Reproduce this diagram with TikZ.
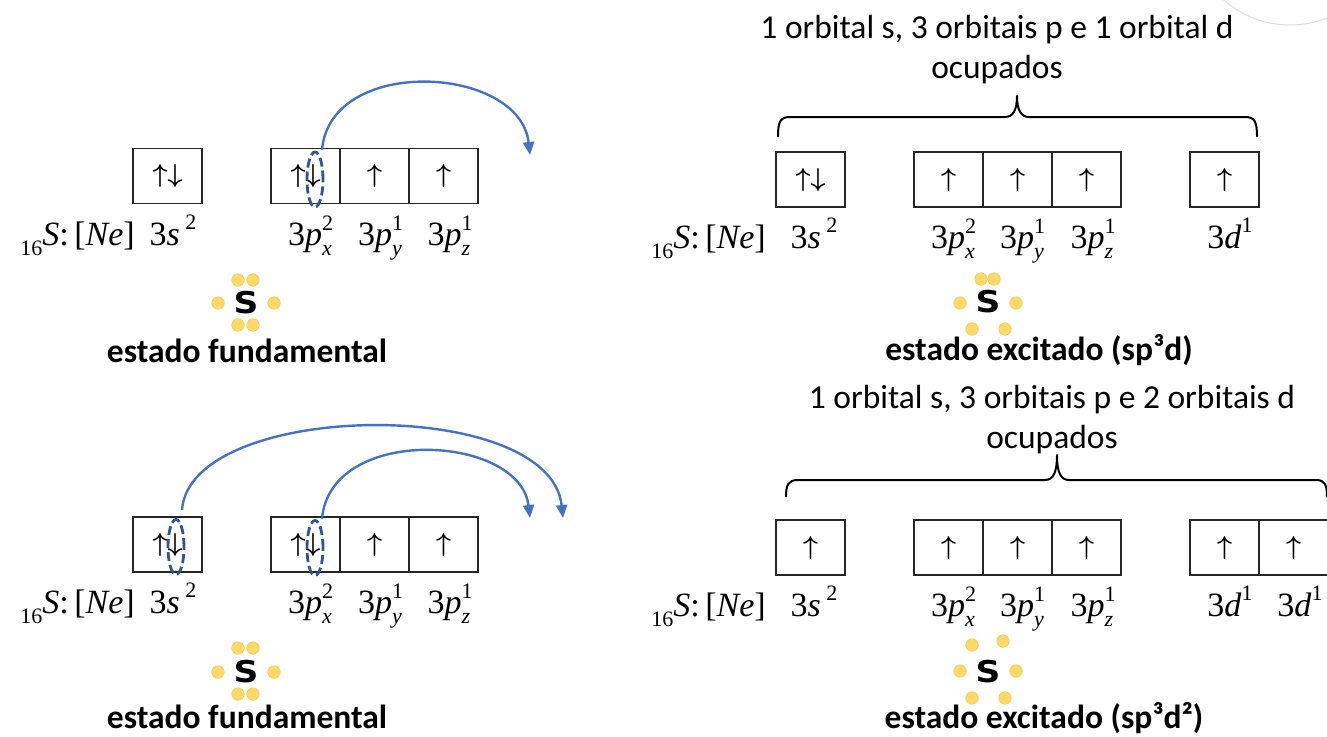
\RequirePackage{fix-cm}
\documentclass[tikz,border=0pt]{standalone}
\usepackage[no-math]{fontspec}
\setmainfont{Carlito}
\newfontfamily\labfont{Liberation Serif}
\newfontfamily\atomfont{DejaVu Sans}
\usetikzlibrary{arrows.meta,shapes.geometric}
\definecolor{arcblue}{RGB}{68,114,196}
\definecolor{ellblue}{RGB}{47,85,151}
\definecolor{dotyellow}{RGB}{255,217,102}
\definecolor{dotedge}{RGB}{244,200,92}
\definecolor{faint}{RGB}{222,222,222}
\newcommand{\scr}[1]{{\fontsize{22}{22}\selectfont #1}}
\newcommand{\ssup}[2]{\rlap{\raisebox{0.42em}{\scr{#2}}}\raisebox{-0.3em}{\scr{\itshape #1}}}
\newcommand{\sname}{\raisebox{-0.3em}{\scr{16}}\textit{S}:\,[\textit{Ne}]}
\newcommand{\lvl}[2]{3\textit{#1}\,\raisebox{0.45em}{\scr{#2}}}
\newcommand{\lvlp}[2]{3\textit{p}\ssup{#1}{#2}}
\newcommand{\lvld}{3\textit{d}\raisebox{0.45em}{\scr{1}}}
\newcommand{\up}{$\uparrow$}
\newcommand{\ud}{$\uparrow\downarrow$}
\begin{document}
\begin{tikzpicture}[x=1pt,y=-1pt,
 orb/.style={draw=black!85,line width=1.6pt,minimum width=69pt,minimum height=55pt,inner sep=0pt,outer sep=0pt,font=\boldmath\fontsize{26}{30}\selectfont},
 lbl/.style={anchor=base,inner sep=0pt,font=\labfont\fontsize{34}{38}\selectfont},
 lblname/.style={anchor=base east,inner sep=0pt,font=\labfont\fontsize{34}{38}\selectfont},
 txt/.style={inner sep=0pt,font=\fontsize{33.5}{40}\selectfont,align=center},
 statelbl/.style={anchor=base,inner sep=0pt,font=\bfseries\fontsize{33.5}{40}\selectfont},
 atom/.style={inner sep=0pt,font=\atomfont\bfseries\fontsize{30}{32}\selectfont,xscale=1.15},
 edot/.style={circle,fill=dotyellow,draw=dotedge,line width=0.6pt,minimum size=12.5pt,inner sep=0pt},
 spin/.style={ellipse,draw=ellblue,dash pattern=on 9pt off 4pt,line width=2.8pt,minimum width=16pt,minimum height=55pt,inner sep=0pt},
 jump/.style={draw=arcblue,line width=2.4pt,-{Triangle[length=13pt,width=11pt]}},
 bracepath/.style={draw=black,line width=2pt,line join=round}
]
\useasboundingbox (0,0) rectangle (1327,736);
\clip (0,0) rectangle (1327,736);
\fill[white] (0,0) rectangle (1327,736);
% faint arc top right
\draw[faint,line width=1pt] (1290,-75) circle[radius=100];

% ===== top-left: ground state =====
\node[orb] (tl3s) at (167.5,176) {\ud};
\node[orb] (tlpx) at (305.5,176) {\ud};
\node[orb] (tlpy) at (374.5,176) {\up};
\node[orb] (tlpz) at (443.5,176) {\up};
\node[spin] (tle1) at (315,179.5) {};
\coordinate (tlj1s) at (322,150);
\coordinate (tlj1e) at (530,155);
\draw[jump] (tlj1s) .. controls (330,55) and (520,65) .. (tlj1e);
\node[lblname] (tlname) at (135,245) {\sname};
\node[lbl] (tll3s) at (173,245) {\lvl{s}{2}};
\node[lbl] (tllpx) at (310,245) {\lvlp{x}{2}};
\node[lbl] (tllpy) at (380,245) {\lvlp{y}{1}};
\node[lbl] (tllpz) at (449,245) {\lvlp{z}{1}};
\node[atom] (tlS) at (246,303) {S};
\node[edot] (tld1) at (238,280) {};
\node[edot] (tld2) at (253,280) {};
\node[edot] (tld3) at (218,303) {};
\node[edot] (tld4) at (274,303) {};
\node[edot] (tld5) at (238,325) {};
\node[edot] (tld6) at (253,325) {};
\node[statelbl] (tlstate) at (247,362) {estado fundamental};

% ===== top-right: sp3d =====
\node[txt] (trtxt) at (997,50) {1 orbital s, 3 orbitais p e 1 orbital d\\ocupados};
\draw[bracepath] (778,137) .. controls (778,122) and (780,117) .. (790,117) -- (1005,117)
  .. controls (1013,117) and (1017,110) .. (1017,96)
  .. controls (1017,110) and (1021,117) .. (1029,117) -- (1245,117)
  .. controls (1255,117) and (1257,122) .. (1257,137);
\node[orb] (tr3s) at (810.5,179.5) {\ud};
\node[orb] (trpx) at (948.5,179.5) {\up};
\node[orb] (trpy) at (1017.5,179.5) {\up};
\node[orb] (trpz) at (1086.5,179.5) {\up};
\node[orb] (trd1) at (1224.5,179.5) {\up};
\node[lblname] (trname) at (766,248) {\sname};
\node[lbl] (trl3s) at (814,248) {\lvl{s}{2}};
\node[lbl] (trlpx) at (953,248) {\lvlp{x}{2}};
\node[lbl] (trlpy) at (1022,248) {\lvlp{y}{1}};
\node[lbl] (trlpz) at (1092,248) {\lvlp{z}{1}};
\node[lbl] (trld1) at (1230,248) {\lvld};
\node[atom] (trS) at (988,302) {S};
\node[edot] (trd1a) at (981,279) {};
\node[edot] (trd2a) at (994,279) {};
\node[edot] (trd3a) at (960,303) {};
\node[edot] (trd4a) at (1016,303) {};
\node[edot] (trd5a) at (972,329) {};
\node[edot] (trd6a) at (1005,329) {};
\node[statelbl] (trstate) at (1039,360) {estado excitado (sp³d)};

% ===== bottom-left: ground state =====
\node[orb] (bl3s) at (167.5,544.5) {\ud};
\node[orb] (blpx) at (305.5,544.5) {\ud};
\node[orb] (blpy) at (374.5,544.5) {\up};
\node[orb] (blpz) at (443.5,544.5) {\up};
\node[spin] (ble1) at (176,547) {};
\node[spin] (ble2) at (315,548) {};
\coordinate (blj1s) at (182,510);
\coordinate (blj1e) at (563,518);
\coordinate (blj2s) at (322,519);
\coordinate (blj2e) at (530,518);
\draw[jump] (blj1s) .. controls (190,400) and (550,395) .. (blj1e);
\draw[jump] (blj2s) .. controls (330,424) and (520,434) .. (blj2e);
\node[lblname] (blname) at (135,613) {\sname};
\node[lbl] (bll3s) at (173,613) {\lvl{s}{2}};
\node[lbl] (bllpx) at (310,613) {\lvlp{x}{2}};
\node[lbl] (bllpy) at (380,613) {\lvlp{y}{1}};
\node[lbl] (bllpz) at (449,613) {\lvlp{z}{1}};
\node[atom] (blS) at (246,672) {S};
\node[edot] (bld1) at (238,648) {};
\node[edot] (bld2) at (253,648) {};
\node[edot] (bld3) at (218,672) {};
\node[edot] (bld4) at (274,672) {};
\node[edot] (bld5) at (238,694) {};
\node[edot] (bld6) at (253,694) {};
\node[statelbl] (blstate) at (247,728) {estado fundamental};

% ===== bottom-right: sp3d2 =====
\node[txt] (brtxt) at (1052,420) {1 orbital s, 3 orbitais p e 2 orbitais d\\ocupados};
\draw[bracepath] (786,497) .. controls (786,485) and (788,480) .. (798,480) -- (1045,480)
  .. controls (1053,480) and (1057,473) .. (1057,455)
  .. controls (1057,473) and (1061,480) .. (1069,480) -- (1316,480)
  .. controls (1325,480) and (1327,485) .. (1327,497);
\node[orb] (br3s) at (810.5,547.5) {\up};
\node[orb] (brpx) at (948.5,547.5) {\up};
\node[orb] (brpy) at (1017.5,547.5) {\up};
\node[orb] (brpz) at (1086.5,547.5) {\up};
\node[orb] (brd1) at (1224.5,547.5) {\up};
\node[orb] (brd2) at (1293.5,547.5) {\up};
\node[lblname] (brname) at (766,616) {\sname};
\node[lbl] (brl3s) at (814,616) {\lvl{s}{2}};
\node[lbl] (brlpx) at (953,616) {\lvlp{x}{2}};
\node[lbl] (brlpy) at (1022,616) {\lvlp{y}{1}};
\node[lbl] (brlpz) at (1092,616) {\lvlp{z}{1}};
\node[lbl] (brld1) at (1230,616) {\lvld};
\node[lbl] (brld2) at (1300,616) {\lvld};
\node[atom] (brS) at (988,672) {S};
\node[edot] (brd1a) at (972,645) {};
\node[edot] (brd2a) at (1003,641) {};
\node[edot] (brd3a) at (960,671) {};
\node[edot] (brd4a) at (1016,671) {};
\node[edot] (brd5a) at (972,698) {};
\node[edot] (brd6a) at (1005,698) {};
\node[statelbl] (brstate) at (1044,728) {estado excitado (sp³d²)};
\end{tikzpicture}
\end{document}
